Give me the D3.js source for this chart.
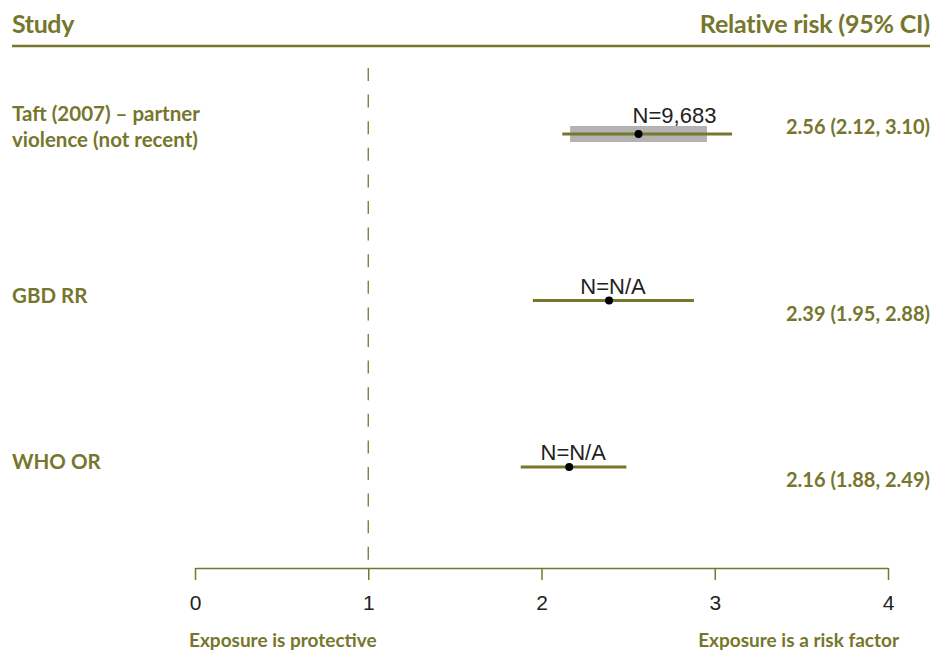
<!DOCTYPE html>
<html>
<head>
<meta charset="utf-8">
<script src="https://cdn.jsdelivr.net/npm/d3@7"></script>
<style>
  html, body { margin: 0; padding: 0; background: #fff; }
  svg { display: block; }
  .olive { fill: #76762c; font-family: Lato, "Open Sans", sans-serif; font-weight: 700; }
  .nlab { fill: #222; font-family: "Liberation Sans", Arial, sans-serif; font-size: 22px; }
</style>
</head>
<body>
<svg id="chart" width="932" height="652"></svg>
<script>
// ---- data ----
const studies = [["Taft (2007) \u2013 partner", "violence (not recent)"], ["GBD RR"], ["WHO OR"]];
const estimates = [2.56, 2.39, 2.16];
const lowers = [2.12, 1.95, 1.88];
const uppers = [3.10, 2.88, 2.49];
const nLabels = ["N=9,683", "N=N/A", "N=N/A"];
const valueLabels = ["2.56 (2.12, 3.10)", "2.39 (1.95, 2.88)", "2.16 (1.88, 2.49)"];
const boxLow = [2.165, null, null];
const boxHigh = [2.955, null, null];
const xTicks = [0, 1, 2, 3, 4];

// ---- layout ----
const olive = "#76762c";
const svg = d3.select("#chart");
const x = d3.scaleLinear().domain([0, 4]).range([195, 888]);
const y = d3.scalePoint().domain(d3.range(studies.length)).range([134, 467]);
const valueDy = [0, 20, 20];
const nDx = [36, 4, 4];
const nDy = [-11, -7, -7];

// header
svg.append("text").attr("class", "olive").attr("x", 12).attr("y", 33)
  .attr("font-size", 25).attr("letter-spacing", -0.4).text("Study");
svg.append("text").attr("class", "olive").attr("x", 930).attr("y", 33)
  .attr("text-anchor", "end").attr("font-size", 25).attr("letter-spacing", -0.2).text("Relative risk (95% CI)");
svg.append("line").attr("x1", 12).attr("x2", 930).attr("y1", 46).attr("y2", 46)
  .attr("stroke", olive).attr("stroke-width", 2.5);

// reference line at 1
svg.append("line").attr("x1", x(1)).attr("x2", x(1)).attr("y1", 68).attr("y2", 566)
  .attr("stroke", olive).attr("stroke-width", 1.3).attr("stroke-dasharray", "13,13.6");

// axis
const axisG = svg.append("g").attr("transform", "translate(0,568)")
  .call(d3.axisBottom(x).tickValues(xTicks).tickSize(12).tickSizeOuter(0).tickPadding(15)
        .tickFormat(d3.format("d")));
axisG.select(".domain").attr("stroke", olive).attr("stroke-width", 1.5);
axisG.selectAll(".tick line").attr("stroke", olive).attr("stroke-width", 1.5);
axisG.selectAll(".tick text").attr("fill", "#222").attr("font-size", 21)
  .attr("font-family", "'Liberation Sans Narrow', 'Liberation Sans', Arial, sans-serif");

// rows
studies.forEach((lines, i) => {
  const yc = y(i);
  const g = svg.append("g");
  // label
  const t = g.append("text").attr("class", "olive").attr("font-size", 20.5);
  const lh = 26;
  const y0 = lines.length > 1 ? yc - 13 : yc + 2;
  lines.forEach((s, k) => t.append("tspan").attr("x", 12).attr("y", y0 + k * lh).text(s));
  // box
  if (boxLow[i] != null) {
    g.append("rect").attr("x", x(boxLow[i])).attr("width", x(boxHigh[i]) - x(boxLow[i]))
      .attr("y", yc - 8).attr("height", 16).attr("fill", "#b3b3b3");
  }
  // CI line
  g.append("line").attr("x1", x(lowers[i])).attr("x2", x(uppers[i])).attr("y1", yc).attr("y2", yc)
    .attr("stroke", olive).attr("stroke-width", 3);
  // point
  g.append("circle").attr("cx", x(estimates[i])).attr("cy", yc).attr("r", 4).attr("fill", "#000");
  // N label
  g.append("text").attr("class", "nlab").attr("x", x(estimates[i]) + nDx[i]).attr("y", yc + nDy[i])
    .attr("text-anchor", "middle").text(nLabels[i]);
  // value label
  g.append("text").attr("class", "olive").attr("x", 930).attr("y", yc + valueDy[i])
    .attr("text-anchor", "end").attr("font-size", 20).text(valueLabels[i]);
});

// bottom annotations
svg.append("text").attr("class", "olive").attr("x", 189).attr("y", 647)
  .attr("font-size", 19).text("Exposure is protective");
svg.append("text").attr("class", "olive").attr("x", 899).attr("y", 647).attr("text-anchor", "end")
  .attr("font-size", 19).text("Exposure is a risk factor");
</script>
</body>
</html>
